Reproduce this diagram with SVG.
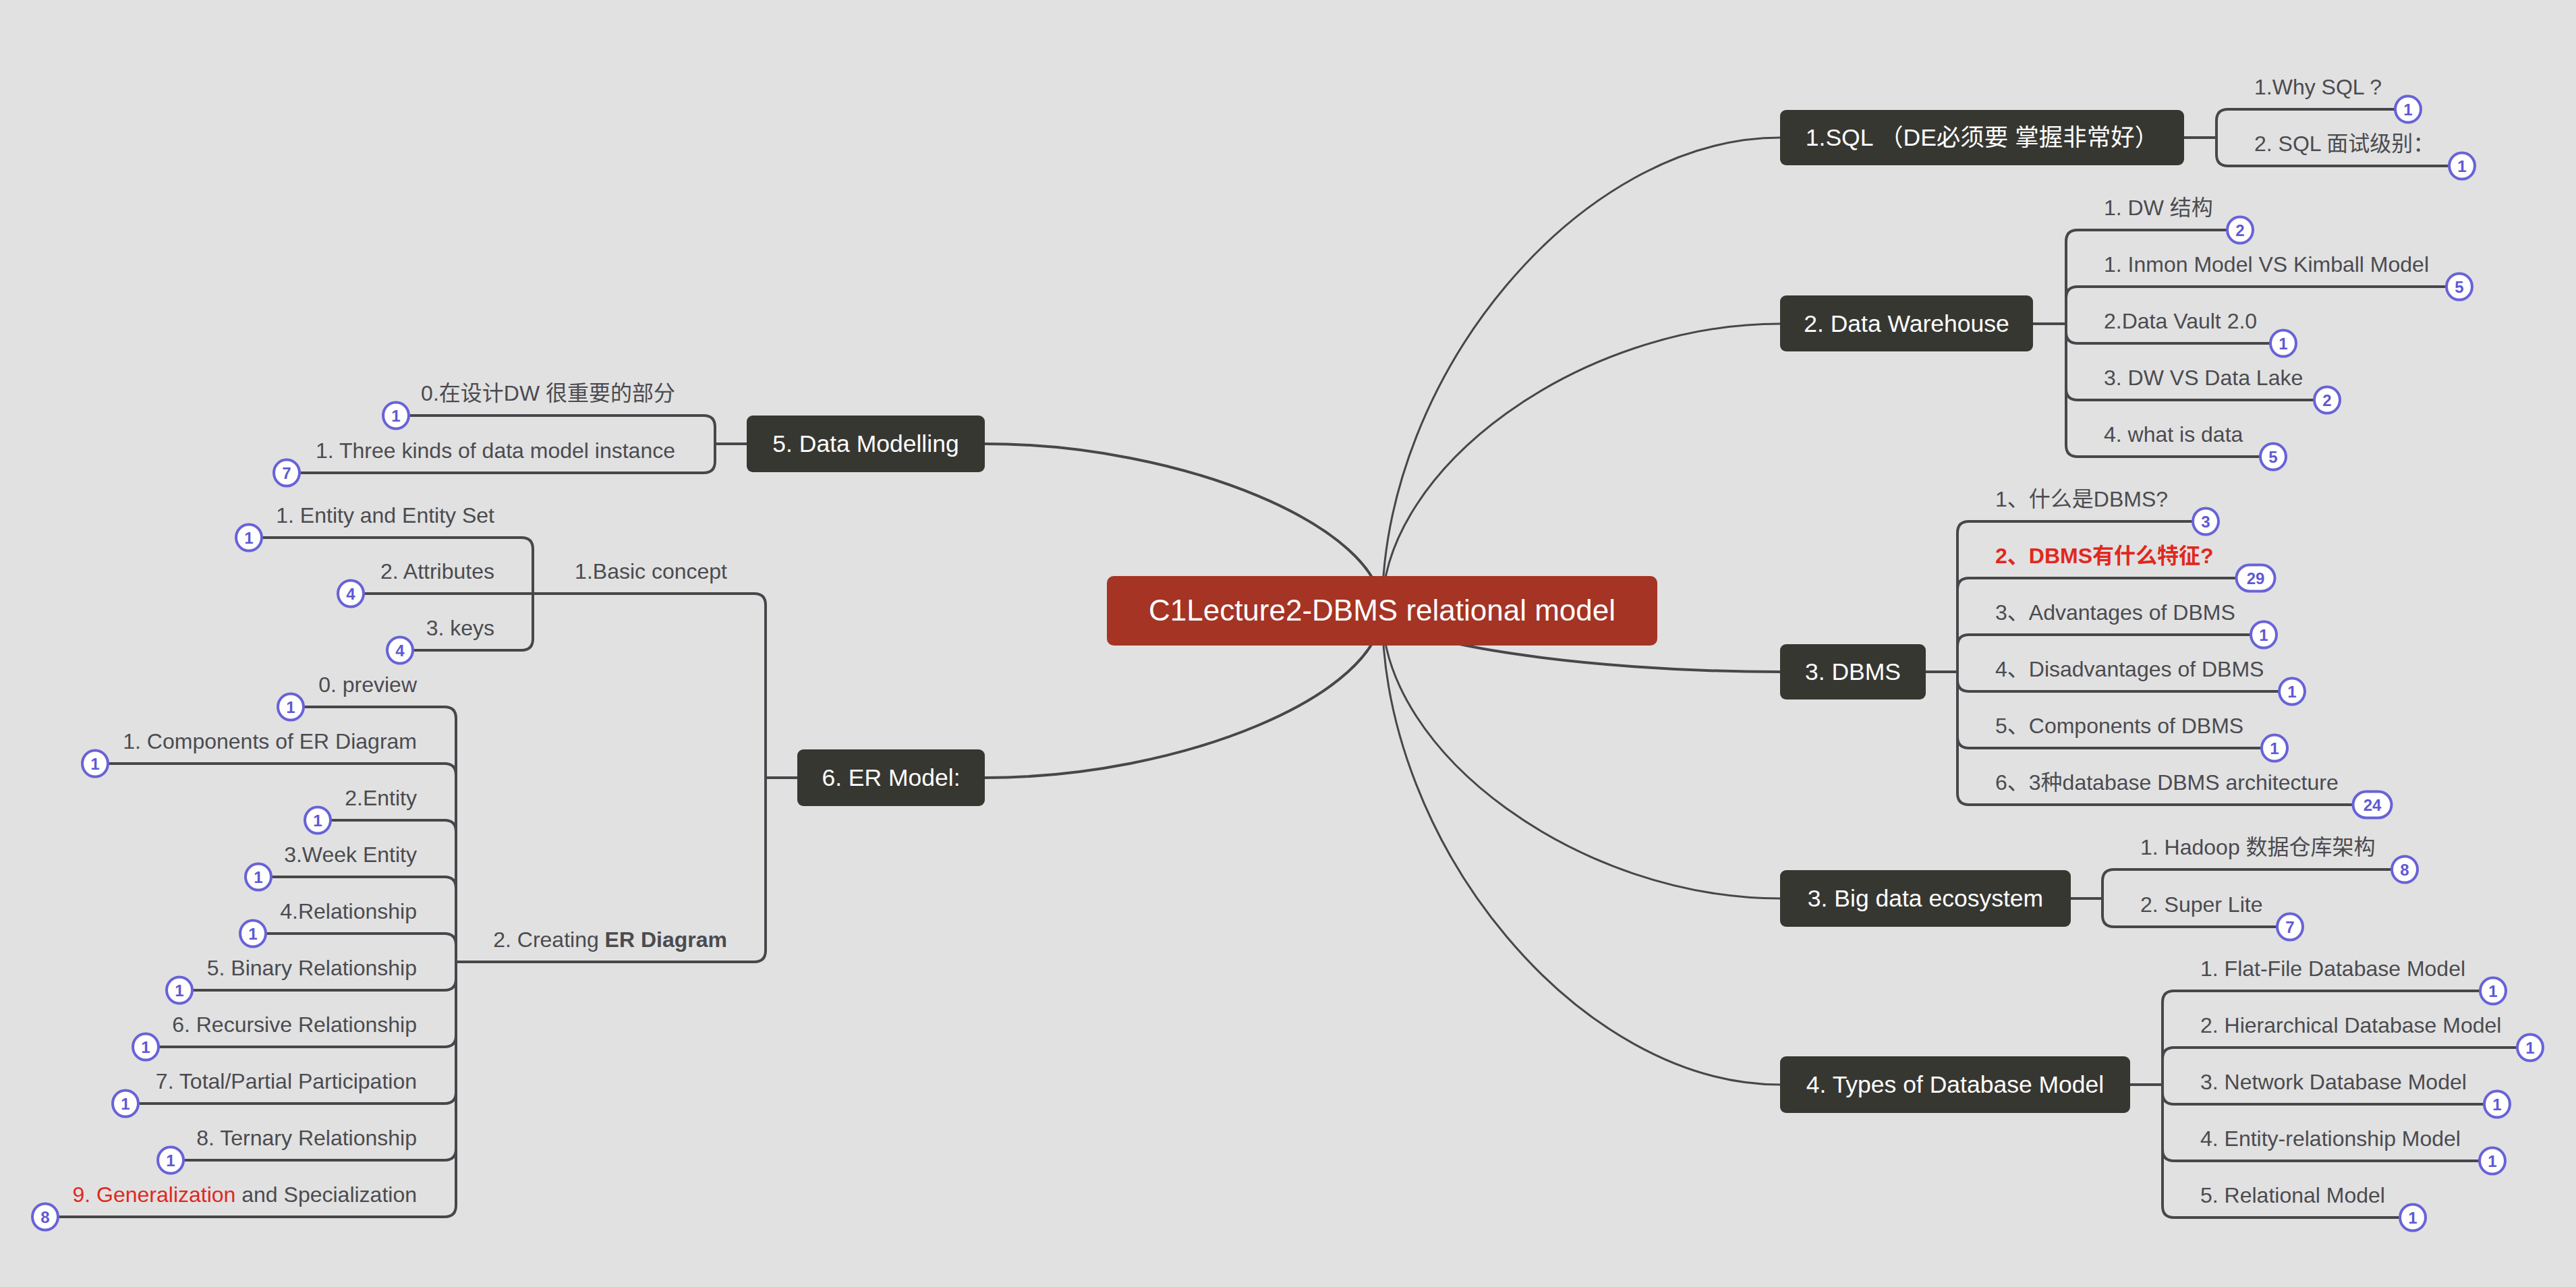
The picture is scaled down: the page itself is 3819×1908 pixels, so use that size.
<svg xmlns="http://www.w3.org/2000/svg" width="3819" height="1908" viewBox="0 0 3819 1908">
<style>
text{font-family:"Liberation Sans","Noto Sans CJK SC",sans-serif}
.c{fill:none;stroke:#47474b;stroke-linecap:round;stroke-linejoin:round}
.main{stroke-width:4}
.thin{stroke-width:3}
.br{fill:none;stroke:#47474b;stroke-width:4;stroke-linejoin:round}
.box{fill:#373732}
.nt{fill:#ffffff;font-size:35.5px;text-anchor:middle}
.t{fill:#4b4b50;font-size:32px}
.r{text-anchor:end}
.red{fill:#e0281e}
.bd text{fill:#5f59d4;font-size:24px;font-weight:bold;text-anchor:middle}
</style>
<defs>
<rect id="b1" x="-19" y="-19.5" width="38" height="39" rx="19.5" fill="#ffffff" stroke="#6862d8" stroke-width="4"/>
<rect id="b2" x="-28.5" y="-19.5" width="57" height="39" rx="19.5" fill="#ffffff" stroke="#6862d8" stroke-width="4"/>
</defs>
<rect x="0" y="0" width="3819" height="1908" fill="#e1e1e1"/>

<g id="connectors">
<path class="c thin" d="M2049,905 C2049,554.5 2344,204 2639,204"/>
<path class="c thin" d="M2049,905 C2049,692.5 2344,480 2639,480"/>
<path class="c main" d="M2049,905 C2049,950.5 2344,996 2639,996"/>
<path class="c thin" d="M2049,905 C2049,1118.5 2344,1332 2639,1332"/>
<path class="c thin" d="M2049,905 C2049,1256.5 2344,1608 2639,1608"/>
<path class="c main" d="M2049,905 C2049,781.5 1754.5,658 1460,658"/>
<path class="c main" d="M2049,905 C2049,1029 1754.5,1153 1460,1153"/>

<path class="br" d="M3238,204 H3286 V179 Q3286,162 3303,162 H3570"/>
<path class="br" d="M3238,204 H3286 V229 Q3286,246 3303,246 H3650"/>

<path class="br" d="M3014,480 H3063 V358 Q3063,341 3080,341 H3321"/>
<path class="br" d="M3014,480 H3063 V442 Q3063,425 3080,425 H3646"/>
<path class="br" d="M3014,480 H3063 V492 Q3063,509 3080,509 H3385"/>
<path class="br" d="M3014,480 H3063 V576 Q3063,593 3080,593 H3450"/>
<path class="br" d="M3014,480 H3063 V660 Q3063,677 3080,677 H3370"/>

<path class="br" d="M2855,996 H2902 V790 Q2902,773 2919,773 H3270"/>
<path class="br" d="M2855,996 H2902 V874 Q2902,857 2919,857 H3344"/>
<path class="br" d="M2855,996 H2902 V958 Q2902,941 2919,941 H3356"/>
<path class="br" d="M2855,996 H2902 V1008 Q2902,1025 2919,1025 H3398"/>
<path class="br" d="M2855,996 H2902 V1092 Q2902,1109 2919,1109 H3372"/>
<path class="br" d="M2855,996 H2902 V1176 Q2902,1193 2919,1193 H3517"/>

<path class="br" d="M3070,1332 H3117 V1306 Q3117,1289 3134,1289 H3565"/>
<path class="br" d="M3070,1332 H3117 V1357 Q3117,1374 3134,1374 H3395"/>

<path class="br" d="M3158,1608 H3206 V1486 Q3206,1469 3223,1469 H3696"/>
<path class="br" d="M3158,1608 H3206 V1570 Q3206,1553 3223,1553 H3751"/>
<path class="br" d="M3158,1608 H3206 V1620 Q3206,1637 3223,1637 H3702"/>
<path class="br" d="M3158,1608 H3206 V1704 Q3206,1721 3223,1721 H3695"/>
<path class="br" d="M3158,1608 H3206 V1788 Q3206,1805 3223,1805 H3577"/>

<path class="br" d="M1107,658 H1060 V633 Q1060,616 1043,616 H587"/>
<path class="br" d="M1107,658 H1060 V684 Q1060,701 1043,701 H425"/>

<path class="br" d="M1182,1153 H1135 V897 Q1135,880 1118,880 H790"/>
<path class="br" d="M1182,1153 H1135 V1409 Q1135,1426 1118,1426 H676"/>

<path class="br" d="M790,880 V814 Q790,797 773,797 H369"/>
<path class="br" d="M790,880 H520"/>
<path class="br" d="M790,880 V947 Q790,964 773,964 H593"/>

<path class="br" d="M676,1426 V1065 Q676,1048 659,1048 H431"/>
<path class="br" d="M676,1426 V1149 Q676,1132 659,1132 H141"/>
<path class="br" d="M676,1426 V1233 Q676,1216 659,1216 H471"/>
<path class="br" d="M676,1426 V1317 Q676,1300 659,1300 H383"/>
<path class="br" d="M676,1426 V1401 Q676,1384 659,1384 H375"/>
<path class="br" d="M676,1426 V1451 Q676,1468 659,1468 H266"/>
<path class="br" d="M676,1426 V1535 Q676,1552 659,1552 H216"/>
<path class="br" d="M676,1426 V1619 Q676,1636 659,1636 H186"/>
<path class="br" d="M676,1426 V1703 Q676,1720 659,1720 H253"/>
<path class="br" d="M676,1426 V1787 Q676,1804 659,1804 H67"/>
</g>

<g id="central">
<rect x="1641" y="854" width="816" height="103" rx="10" fill="#a53425"/>
<text x="2049" y="920" fill="#ffffff" font-size="44" text-anchor="middle">C1Lecture2-DBMS relational model</text>
</g>

<g id="sql">
<rect class="box" x="2639" y="163" width="599" height="82" rx="9"/>
<text class="nt" x="2938.5" y="216">1.SQL （DE必须要 掌握非常好）</text>
<text class="t" x="3342" y="140">1.Why SQL ?</text>
<g class="bd" transform="translate(3570,162)"><use href="#b1"/><text y="8.5">1</text></g>
<text class="t" x="3342" y="224">2. SQL 面试级别：</text>
<g class="bd" transform="translate(3650,246)"><use href="#b1"/><text y="8.5">1</text></g>
</g>

<g id="dw">
<rect class="box" x="2639" y="438" width="375" height="83" rx="9"/>
<text class="nt" x="2826.5" y="492">2. Data Warehouse</text>
<text class="t" x="3119" y="319">1. DW 结构</text>
<g class="bd" transform="translate(3321,341)"><use href="#b1"/><text y="8.5">2</text></g>
<text class="t" x="3119" y="403">1. Inmon Model VS Kimball Model</text>
<g class="bd" transform="translate(3646,425)"><use href="#b1"/><text y="8.5">5</text></g>
<text class="t" x="3119" y="487">2.Data Vault 2.0</text>
<g class="bd" transform="translate(3385,509)"><use href="#b1"/><text y="8.5">1</text></g>
<text class="t" x="3119" y="571">3. DW VS Data Lake</text>
<g class="bd" transform="translate(3450,593)"><use href="#b1"/><text y="8.5">2</text></g>
<text class="t" x="3119" y="655">4. what is data</text>
<g class="bd" transform="translate(3370,677)"><use href="#b1"/><text y="8.5">5</text></g>
</g>

<g id="dbms">
<rect class="box" x="2639" y="955" width="216" height="82" rx="9"/>
<text class="nt" x="2747" y="1008">3. DBMS</text>
<text class="t" x="2958" y="751">1、什么是DBMS?</text>
<g class="bd" transform="translate(3270,773)"><use href="#b1"/><text y="8.5">3</text></g>
<text class="t red" x="2958" y="835" font-weight="bold">2、DBMS有什么特征?</text>
<g class="bd" transform="translate(3344,857)"><use href="#b2"/><text y="8.5">29</text></g>
<text class="t" x="2958" y="919">3、Advantages of DBMS</text>
<g class="bd" transform="translate(3356,941)"><use href="#b1"/><text y="8.5">1</text></g>
<text class="t" x="2958" y="1003">4、Disadvantages of DBMS</text>
<g class="bd" transform="translate(3398,1025)"><use href="#b1"/><text y="8.5">1</text></g>
<text class="t" x="2958" y="1087">5、Components of DBMS</text>
<g class="bd" transform="translate(3372,1109)"><use href="#b1"/><text y="8.5">1</text></g>
<text class="t" x="2958" y="1171">6、3种database DBMS architecture</text>
<g class="bd" transform="translate(3517,1193)"><use href="#b2"/><text y="8.5">24</text></g>
</g>

<g id="bigdata">
<rect class="box" x="2639" y="1290" width="431" height="84" rx="9"/>
<text class="nt" x="2854.5" y="1344">3. Big data ecosystem</text>
<text class="t" x="3173" y="1267">1. Hadoop 数据仓库架构</text>
<g class="bd" transform="translate(3565,1289)"><use href="#b1"/><text y="8.5">8</text></g>
<text class="t" x="3173" y="1352">2. Super Lite</text>
<g class="bd" transform="translate(3395,1374)"><use href="#b1"/><text y="8.5">7</text></g>
</g>

<g id="types">
<rect class="box" x="2639" y="1566" width="519" height="84" rx="9"/>
<text class="nt" x="2898.5" y="1620">4. Types of Database Model</text>
<text class="t" x="3262" y="1447">1. Flat-File Database Model</text>
<g class="bd" transform="translate(3696,1469)"><use href="#b1"/><text y="8.5">1</text></g>
<text class="t" x="3262" y="1531">2. Hierarchical Database Model</text>
<g class="bd" transform="translate(3751,1553)"><use href="#b1"/><text y="8.5">1</text></g>
<text class="t" x="3262" y="1615">3. Network Database Model</text>
<g class="bd" transform="translate(3702,1637)"><use href="#b1"/><text y="8.5">1</text></g>
<text class="t" x="3262" y="1699">4. Entity-relationship Model</text>
<g class="bd" transform="translate(3695,1721)"><use href="#b1"/><text y="8.5">1</text></g>
<text class="t" x="3262" y="1783">5. Relational Model</text>
<g class="bd" transform="translate(3577,1805)"><use href="#b1"/><text y="8.5">1</text></g>
</g>

<g id="datamodelling">
<rect class="box" x="1107" y="616" width="353" height="84" rx="9"/>
<text class="nt" x="1283.5" y="670">5. Data Modelling</text>
<text class="t r" x="1001" y="594">0.在设计DW 很重要的部分</text>
<g class="bd" transform="translate(587,616)"><use href="#b1"/><text y="8.5">1</text></g>
<text class="t r" x="1001" y="679">1. Three kinds of data model instance</text>
<g class="bd" transform="translate(425,701)"><use href="#b1"/><text y="8.5">7</text></g>
</g>

<g id="ermodel">
<rect class="box" x="1182" y="1111" width="278" height="84" rx="9"/>
<text class="nt" x="1321" y="1165">6. ER Model:</text>
<text class="t r" x="1078" y="858">1.Basic concept</text>
<text class="t r" x="1078" y="1404">2. Creating <tspan font-weight="bold">ER Diagram</tspan></text>
</g>

<g id="basicconcept">
<text class="t r" x="733" y="775">1. Entity and Entity Set</text>
<g class="bd" transform="translate(369,797)"><use href="#b1"/><text y="8.5">1</text></g>
<text class="t r" x="733" y="858">2. Attributes</text>
<g class="bd" transform="translate(520,880)"><use href="#b1"/><text y="8.5">4</text></g>
<text class="t r" x="733" y="942">3. keys</text>
<g class="bd" transform="translate(593,964)"><use href="#b1"/><text y="8.5">4</text></g>
</g>

<g id="erdiagram">
<text class="t r" x="618" y="1026">0. preview</text>
<g class="bd" transform="translate(431,1048)"><use href="#b1"/><text y="8.5">1</text></g>
<text class="t r" x="618" y="1110">1. Components of ER Diagram</text>
<g class="bd" transform="translate(141,1132)"><use href="#b1"/><text y="8.5">1</text></g>
<text class="t r" x="618" y="1194">2.Entity</text>
<g class="bd" transform="translate(471,1216)"><use href="#b1"/><text y="8.5">1</text></g>
<text class="t r" x="618" y="1278">3.Week Entity</text>
<g class="bd" transform="translate(383,1300)"><use href="#b1"/><text y="8.5">1</text></g>
<text class="t r" x="618" y="1362">4.Relationship</text>
<g class="bd" transform="translate(375,1384)"><use href="#b1"/><text y="8.5">1</text></g>
<text class="t r" x="618" y="1446">5. Binary Relationship</text>
<g class="bd" transform="translate(266,1468)"><use href="#b1"/><text y="8.5">1</text></g>
<text class="t r" x="618" y="1530">6. Recursive Relationship</text>
<g class="bd" transform="translate(216,1552)"><use href="#b1"/><text y="8.5">1</text></g>
<text class="t r" x="618" y="1614">7. Total/Partial Participation</text>
<g class="bd" transform="translate(186,1636)"><use href="#b1"/><text y="8.5">1</text></g>
<text class="t r" x="618" y="1698">8. Ternary Relationship</text>
<g class="bd" transform="translate(253,1720)"><use href="#b1"/><text y="8.5">1</text></g>
<text class="t r" x="618" y="1782"><tspan class="red">9. Generalization</tspan> and Specialization</text>
<g class="bd" transform="translate(67,1804)"><use href="#b1"/><text y="8.5">8</text></g>
</g>
</svg>
